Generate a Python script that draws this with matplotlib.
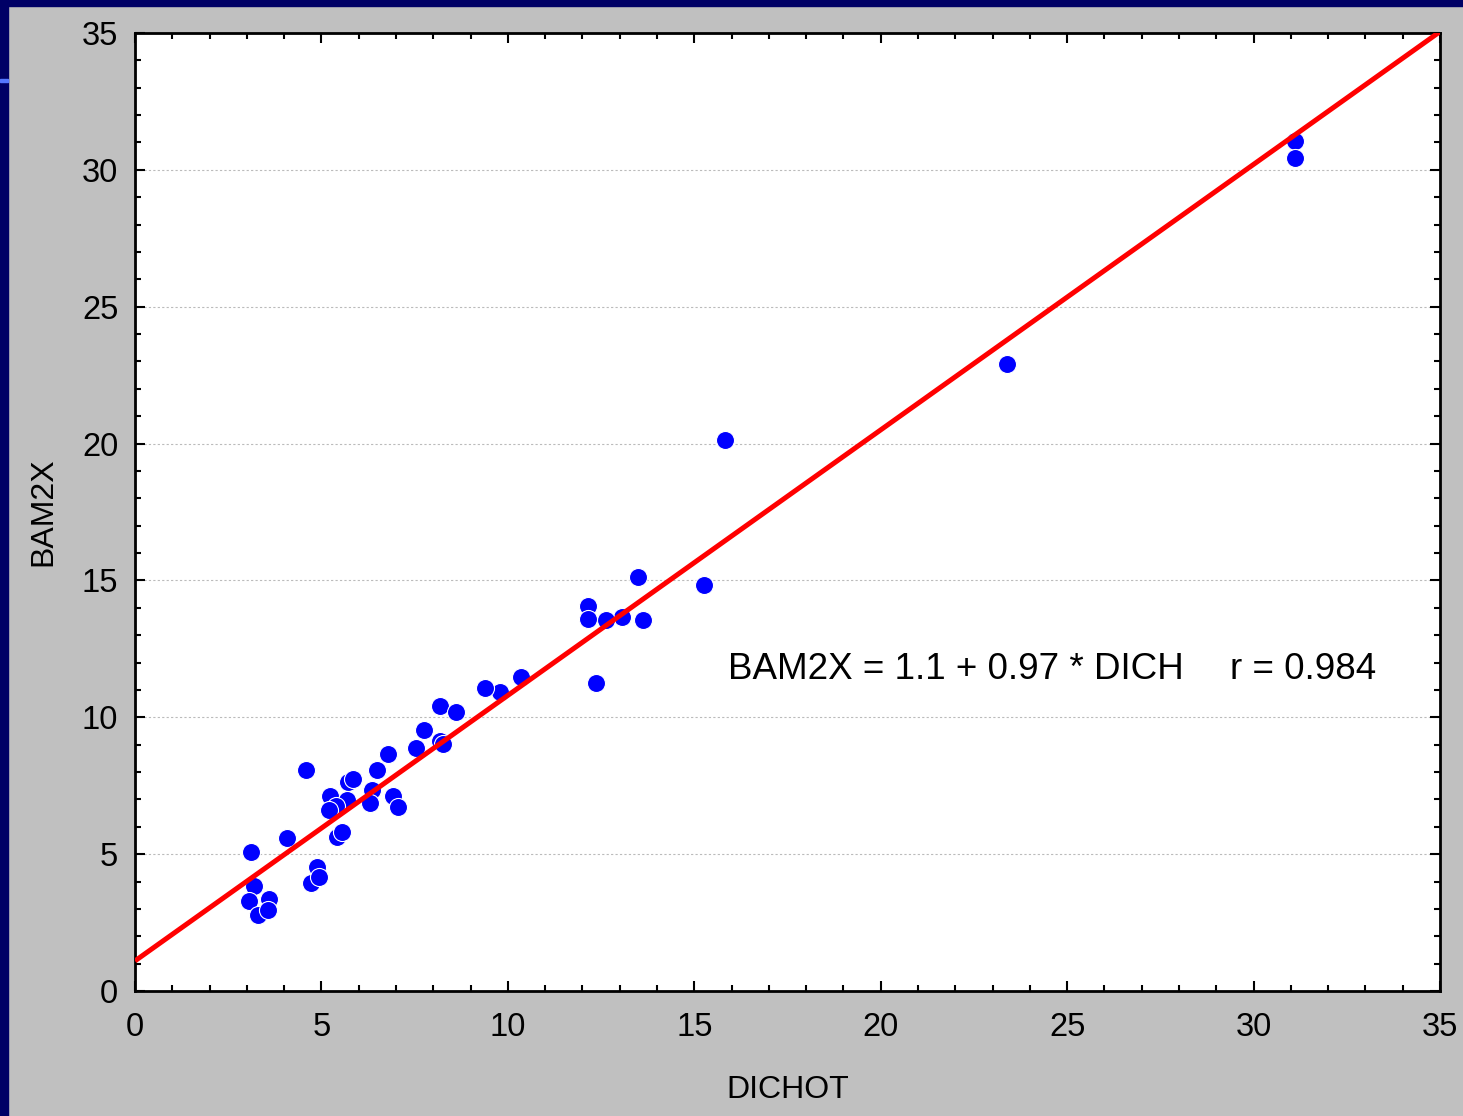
import matplotlib.pyplot as plt
from matplotlib.patches import Rectangle
from matplotlib.ticker import MultipleLocator
import numpy as np

# DICHOT vs BAM2X readings
dichot = [31.11, 31.11, 23.38, 15.82, 15.26, 13.49, 13.62, 13.06, 12.63, 12.15,
          12.15, 12.36, 10.35, 9.79, 9.39, 8.18, 8.61, 7.75, 8.18, 8.25,
          7.54, 6.78, 6.49, 4.59, 5.71, 5.84, 5.23, 5.69, 5.39, 5.20,
          6.36, 6.30, 6.92, 7.05, 4.08, 5.42, 5.55, 3.11, 4.88, 4.72,
          4.93, 3.19, 3.06, 3.59, 3.30, 3.57]
bam2x = [31.06, 30.43, 22.92, 20.13, 14.83, 15.13, 13.56, 13.66, 13.56, 14.07,
         13.59, 11.25, 11.47, 10.92, 11.07, 10.41, 10.19, 9.54, 9.13, 9.02,
         8.88, 8.66, 8.07, 8.07, 7.64, 7.75, 7.12, 6.98, 6.76, 6.61,
         7.34, 6.87, 7.12, 6.72, 5.59, 5.63, 5.81, 5.08, 4.53, 3.95,
         4.17, 3.84, 3.29, 3.36, 2.78, 2.96]

# fitted line
intercept = 1.1
slope = 0.97
r_value = 0.984

fig = plt.figure(figsize=(14.63, 11.16), dpi=100)
fig.patch.set_facecolor('#c0c0c0')

# navy frame pieces on the left and top
fig.patches.append(Rectangle((0, 0), 8 / 1463, 1, transform=fig.transFigure,
                             color='#000066', zorder=0))
fig.patches.append(Rectangle((0, 1 - 6 / 1116), 1, 6 / 1116, transform=fig.transFigure,
                             color='#000066', zorder=0))
fig.patches.append(Rectangle((0, 1 - 82 / 1116), 8 / 1463, 3 / 1116, transform=fig.transFigure,
                             color='#5577ff', zorder=1))

ax = fig.add_axes([135 / 1463, 1 - 991 / 1116, 1305 / 1463, 958 / 1116])
ax.set_facecolor('white')

ax.plot(dichot, bam2x, linestyle='none', marker='o', markersize=13,
        markerfacecolor='#0000ff', markeredgecolor='white', markeredgewidth=0.8,
        zorder=3)

xs = np.array([0, 35])
ax.plot(xs, intercept + slope * xs, color='#ff0000', linewidth=3.6, zorder=4,
        solid_capstyle='butt')

ax.set_xlim(0, 35)
ax.set_ylim(0, 35)
ax.xaxis.set_major_locator(MultipleLocator(5))
ax.yaxis.set_major_locator(MultipleLocator(5))
ax.xaxis.set_minor_locator(MultipleLocator(1))
ax.yaxis.set_minor_locator(MultipleLocator(1))
ax.tick_params(which='both', direction='in', top=True, right=True,
               color='black', width=1.5)
ax.tick_params(which='major', length=7, labelsize=23.5)
ax.tick_params(which='minor', length=4)
ax.tick_params(axis='x', which='major', pad=15)
ax.tick_params(axis='y', which='major', pad=12)
ax.yaxis.grid(True, which='major', color='#bbbbbb', linestyle=(0, (2, 2)),
              linewidth=0.8)
ax.set_axisbelow(True)

for sp in ax.spines.values():
    sp.set_linewidth(2)
    sp.set_color('black')

for lab in ax.get_xticklabels() + ax.get_yticklabels():
    lab.set_family('Liberation Sans')

ax.set_xlabel('DICHOT', fontsize=23, family='Liberation Sans', labelpad=23)
ax.set_ylabel('BAM2X', fontsize=23, family='Liberation Sans', labelpad=17)

narrow = ['Liberation Sans Narrow', 'Liberation Sans']
ax.text(15.9, 11.73, 'BAM2X = %.1f + %.2f * DICH' % (intercept, slope),
        fontsize=26.5, family=narrow, ha='left', va='center')
ax.text(29.36, 11.73, 'r = %.3f' % r_value,
        fontsize=26.5, family=narrow, ha='left', va='center')

fig.savefig('out.png', dpi=100, facecolor=fig.get_facecolor())
